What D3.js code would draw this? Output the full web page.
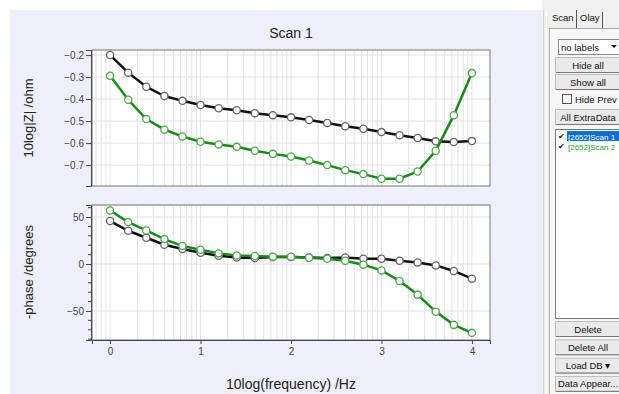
<!DOCTYPE html>
<html>
<head>
<meta charset="utf-8">
<script src="https://cdn.jsdelivr.net/npm/d3@7"></script>
<style>
  body { margin: 0; background: #fff; }
  svg text { font-family: "Liberation Sans", Arial, sans-serif; }
</style>
</head>
<body>
<svg id="chart" width="619" height="394"></svg>
<script>
// log10 frequency, 0..4 step 0.2
var logFreq = [0, 0.2, 0.4, 0.6, 0.8, 1.0, 1.2, 1.4, 1.6, 1.8, 2.0, 2.2, 2.4, 2.6, 2.8, 3.0, 3.2, 3.4, 3.6, 3.8, 4.0];

var scan1Z = [-0.200, -0.280, -0.344, -0.386, -0.408, -0.427, -0.442, -0.451, -0.464, -0.473, -0.483,
              -0.495, -0.509, -0.523, -0.535, -0.550, -0.564, -0.577, -0.592, -0.595, -0.591];
var scan2Z = [-0.294, -0.403, -0.491, -0.539, -0.570, -0.594, -0.606, -0.617, -0.635, -0.649, -0.661,
              -0.679, -0.700, -0.723, -0.741, -0.762, -0.762, -0.729, -0.635, -0.473, -0.282];

var scan1Phase = [45.7, 35.4, 27.9, 20.5, 15.9, 12.0, 8.8, 7.0, 6.4, 7.4, 7.4,
                  7.0, 6.4, 7.0, 5.6, 5.6, 3.5, 1.7, -1.5, -7.4, -15.6];
var scan2Phase = [57.0, 44.6, 35.7, 26.5, 19.1, 15.2, 11.3, 9.1, 8.5, 7.8, 7.8,
                  6.7, 5.6, 3.5, -0.7, -6.8, -18.0, -32.6, -50.7, -64.8, -73.3];

var xTicks = [0, 1, 2, 3, 4];
var zTicks = [-0.2, -0.3, -0.4, -0.5, -0.6, -0.7];
var phaseTicks = [50, 0, -50];
var phaseMinor = [60, 40, 30, 20, 10, -10, -20, -30, -40, -60, -70, -80];

var panelButtonsTop = ['Hide all', 'Show all'];
var panelButtonsBottom = ['Delete', 'Delete All', 'Load DB \u25BE', 'Data Appear...'];
var listItems = ['[2652]Scan 1', '[2652]Scan 2'];

var svg = d3.select('#chart');

// background panel
svg.append('rect').attr('x', 10).attr('y', 10).attr('width', 532).attr('height', 384).attr('fill', '#efeffb');

var left = 92, right = 490;
var x = d3.scaleLinear().domain([-0.2, 4.2]).range([left, right]);
var yZ = d3.scaleLinear().domain([-0.795, -0.177]).range([186, 50]);
var yP = d3.scaleLinear().domain([-80.9, 62.8]).range([340, 205]);

// vertical log grid positions
var gridX = [];
for (var d = -1; d <= 4; d++) {
    for (var k = 1; k <= 9; k++) {
        var v = d + Math.log10(k);
        if (v > -0.2 && v < 4.2) gridX.push(v);
    }
}

function drawPlot(y, yTicks, minor, fmt, s1, s2, showX) {
    var top = y.range()[1], bottom = y.range()[0];
    var g = svg.append('g');
    g.append('rect').attr('x', left).attr('y', top).attr('width', right - left).attr('height', bottom - top)
        .attr('fill', '#fff');

    g.selectAll('line.vg').data(gridX).enter().append('line')
        .attr('x1', d => x(d)).attr('x2', d => x(d))
        .attr('y1', top).attr('y2', bottom)
        .attr('stroke', '#e2e2e2').attr('stroke-width', 1);
    g.selectAll('line.hg').data(yTicks).enter().append('line')
        .attr('x1', left).attr('x2', right)
        .attr('y1', d => y(d)).attr('y2', d => y(d))
        .attr('stroke', '#e2e2e2').attr('stroke-width', 1);

    g.append('rect').attr('x', left).attr('y', top).attr('width', right - left).attr('height', bottom - top)
        .attr('fill', 'none').attr('stroke', '#777').attr('stroke-width', 1);

    // y axis
    var yAxis = d3.axisLeft(y).tickValues(yTicks).tickFormat(fmt).tickSize(5).tickPadding(2);
    var ya = g.append('g').attr('transform', 'translate(' + (left - 1) + ',0)').call(yAxis);
    ya.select('.domain').attr('stroke', '#444');
    ya.selectAll('text').attr('font-size', 10).attr('fill', '#444');
    ya.selectAll('line').attr('stroke', '#444');
    g.selectAll('line.mt').data(minor).enter().append('line')
        .attr('x1', left - 4).attr('x2', left - 1)
        .attr('y1', d => y(d)).attr('y2', d => y(d))
        .attr('stroke', '#444');

    if (showX) {
        var xAxis = d3.axisBottom(x).tickValues(xTicks).tickFormat(d3.format('d')).tickSize(4).tickPadding(4);
        var xa = g.append('g').attr('transform', 'translate(0,' + bottom + ')').call(xAxis);
        xa.select('.domain').attr('stroke', '#444');
        xa.selectAll('text').attr('font-size', 10).attr('fill', '#444');
        xa.selectAll('line').attr('stroke', '#444');
    }

    var line = d3.line().x((d, i) => x(logFreq[i])).y(d => y(d));
    var series = [{v: s1, c: '#111', m: '#666'}, {v: s2, c: '#168c16', m: '#4fa84f'}];
    series.forEach(function (s) {
        g.append('path').datum(s.v).attr('d', line)
            .attr('fill', 'none').attr('stroke', s.c).attr('stroke-width', 2.5);
        g.selectAll(null).data(s.v).enter().append('circle')
            .attr('cx', (d, i) => x(logFreq[i])).attr('cy', d => y(d)).attr('r', 3.6)
            .attr('fill', '#fff').attr('stroke', s.m).attr('stroke-width', 1.3);
    });
}

drawPlot(yZ, zTicks, [], d3.format('.1f'), scan1Z, scan2Z, false);
drawPlot(yP, phaseTicks, phaseMinor, d3.format('d'), scan1Phase, scan2Phase, true);

// titles
svg.append('text').attr('x', 291).attr('y', 38).attr('text-anchor', 'middle')
    .attr('font-size', 14).attr('fill', '#222').text('Scan 1');
svg.append('text').attr('transform', 'translate(33,118) rotate(-90)').attr('text-anchor', 'middle')
    .attr('font-size', 13).attr('fill', '#222').text('10log|Z| /ohm');
svg.append('text').attr('transform', 'translate(33,272) rotate(-90)').attr('text-anchor', 'middle')
    .attr('font-size', 13).attr('fill', '#222').text('-phase /degrees');
svg.append('text').attr('x', 291).attr('y', 389).attr('text-anchor', 'middle')
    .attr('font-size', 14).attr('fill', '#222').text('10log(frequency) /Hz');

// right side control panel
var p = svg.append('g');
p.append('rect').attr('x', 542).attr('y', 0).attr('width', 77).attr('height', 394).attr('fill', '#f0f0f0');
p.append('line').attr('x1', 543.5).attr('x2', 543.5).attr('y1', 10).attr('y2', 394).attr('stroke', '#d4d4d4');
p.append('line').attr('x1', 546.5).attr('x2', 546.5).attr('y1', 10).attr('y2', 394).attr('stroke', '#fff');
// tabs
p.append('rect').attr('x', 549.5).attr('y', 28.5).attr('width', 70).attr('height', 366).attr('fill', '#f7f7f7').attr('stroke', '#aaa');
p.append('text').attr('x', 552).attr('y', 21).attr('font-size', 9.5).attr('fill', '#111').text('Scan');
p.append('line').attr('x1', 576.5).attr('x2', 576.5).attr('y1', 10).attr('y2', 28).attr('stroke', '#555');
p.append('text').attr('x', 580).attr('y', 21).attr('font-size', 9.5).attr('fill', '#111').text('Olay');
p.append('line').attr('x1', 602.5).attr('x2', 602.5).attr('y1', 12).attr('y2', 28).attr('stroke', '#555');
// dropdown
p.append('rect').attr('x', 558.5).attr('y', 39.5).attr('width', 62).attr('height', 15).attr('fill', '#fff').attr('stroke', '#888');
p.append('text').attr('x', 561).attr('y', 51).attr('font-size', 9.5).attr('fill', '#111').text('no labels');
p.append('path').attr('d', 'M611,45 l6,0 l-3,3 z').attr('fill', '#111');

function button(label, yTop) {
    p.append('rect').attr('x', 555.5).attr('y', yTop + 0.5).attr('width', 70).attr('height', 15)
        .attr('fill', '#eaeaea').attr('stroke', '#bbb');
    p.append('line').attr('x1', 556).attr('x2', 620).attr('y1', yTop + 15.5).attr('y2', yTop + 15.5).attr('stroke', '#777');
    p.append('text').attr('x', 588).attr('y', yTop + 11.5).attr('text-anchor', 'middle')
        .attr('font-size', 9.5).attr('fill', '#111').text(label);
}
panelButtonsTop.forEach((b, i) => button(b, 57 + i * 17));
// checkbox
p.append('rect').attr('x', 562.5).attr('y', 94.5).attr('width', 9).attr('height', 9).attr('fill', '#fff').attr('stroke', '#555');
p.append('text').attr('x', 575).attr('y', 103).attr('font-size', 9.5).attr('fill', '#111').text('Hide Prev');
button('All ExtraData', 109);

// list box
p.append('rect').attr('x', 555.5).attr('y', 129.5).attr('width', 68).attr('height', 189).attr('fill', '#fff').attr('stroke', '#777');
listItems.forEach(function (t, i) {
    var yy = 131 + i * 10;
    p.append('text').attr('x', 558).attr('y', yy + 8).attr('font-size', 8).attr('fill', '#111').text('\u2714');
    if (i === 0) {
        p.append('rect').attr('x', 567).attr('y', yy).attr('width', 52).attr('height', 10).attr('fill', '#0a6fd6');
    }
    p.append('text').attr('x', 568).attr('y', yy + 8.5).attr('font-size', 8)
        .attr('fill', i === 0 ? '#fff' : '#2aa02a').text(t);
});

panelButtonsBottom.forEach((b, i) => button(b, 321 + i * 18.3));
</script>
</body>
</html>
